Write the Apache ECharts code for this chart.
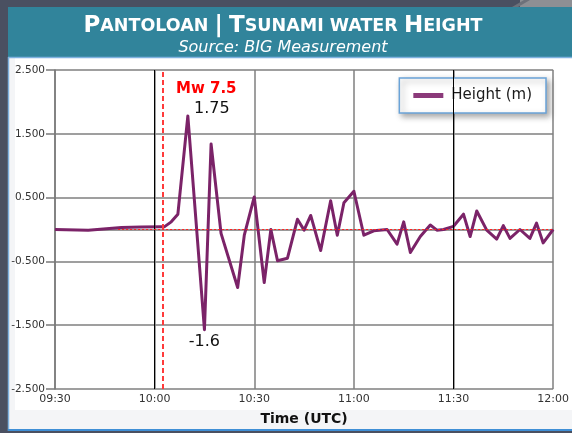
<!DOCTYPE html>
<html>
<head>
<meta charset="utf-8">
<script src="https://cdn.jsdelivr.net/npm/echarts@6/dist/echarts.min.js"></script>
<style>html,body{margin:0;padding:0;background:#4a5061}#c{width:572px;height:433px}</style>
</head>
<body>
<div id="c"></div>
<script>
// minutes after 09:30 UTC
var times = [0,10,20,26,32,33,35,37,40,45,47,50,55,57,60,63,65,67,70,73,75,77,80,83,85,87,90,93,96,100,103,105,107,110,113,115,117,120,123,125,127,130,133,135,137,140,143,145,147,150];
var heights = [0.0,-0.01,0.03,0.04,0.045,0.045,0.12,0.24,1.78,-1.57,1.34,-0.06,-0.91,-0.09,0.51,-0.83,0.0,-0.49,-0.45,0.16,-0.01,0.22,-0.33,0.45,-0.09,0.42,0.6,-0.09,-0.02,0.0,-0.23,0.12,-0.36,-0.11,0.07,-0.01,0.0,0.05,0.24,-0.11,0.29,-0.01,-0.15,0.06,-0.14,0.0,-0.14,0.10,-0.21,0.0];
var xTickLabels = ['09:30','10:00','10:30','11:00','11:30','12:00'];
var quakeTime = [32.3];
var quakeLabel = ['Mw 7.5'];
var peakNotes = ['1.75','-1.6'];
var peakIdx = [8, 9];
var seriesName = 'Height (m)';

var data = times.map(function(t,i){return [t, heights[i]];});
var chart = echarts.init(document.getElementById('c'), null, {renderer:'canvas'});
chart.setOption({
  animation:false,
  backgroundColor:'#4a5061',
  graphic:[
    {type:'rect', z:-20, shape:{x:520,y:0,width:52,height:7}, style:{fill:'#8d8f94'}},
    {type:'polygon', z:-19, shape:{points:[[512,7],[524,0],[530,0],[518,7]]}, style:{fill:'#6d717a'}},
    {type:'rect', z:-20, shape:{x:8,y:7,width:564,height:50}, style:{fill:'#31849b'}},
    {type:'rect', z:-20, shape:{x:8,y:57,width:564,height:374}, style:{fill:'#f4f5f7'}},
    {type:'rect', z:-19, shape:{x:15,y:58,width:557,height:352}, style:{fill:'#ffffff'}},
    {type:'line', z:-18, shape:{x1:8,y1:57.5,x2:572,y2:57.5}, style:{stroke:'#7fb2e0',lineWidth:1.5}},
    {type:'line', z:-18, shape:{x1:8.5,y1:57,x2:8.5,y2:431}, style:{stroke:'#7fb2e0',lineWidth:1.5}},
    {type:'rect', z:-18, shape:{x:8,y:429,width:564,height:2}, style:{fill:'#3f8fd6'}}
  ],
  title:[
    {text:'{b|P}{s|ANTOLOAN }{b||}{s| }{b|T}{s|SUNAMI WATER }{b|H}{s|EIGHT}', left:278, top:10, textAlign:'center',
     textStyle:{rich:{
       b:{color:'#fff', fontFamily:'DejaVu Sans', fontWeight:'bold', fontSize:23},
       s:{color:'#fff', fontFamily:'DejaVu Sans', fontWeight:'bold', fontSize:17.5}
     }}},
    {text:'Source: BIG Measurement', left:278, top:35, textAlign:'center',
     textStyle:{color:'#fff', fontFamily:'DejaVu Sans', fontStyle:'italic', fontWeight:'normal', fontSize:16}}
  ],
  legend:{
    data:[{name:seriesName, icon:'rect', itemStyle:{color:'#8b3a7a'}}],
    right:26, top:78, orient:'horizontal',
    itemWidth:30, itemHeight:5, itemGap:8,
    padding:[10,14,10,14],
    backgroundColor:'#ffffff', borderColor:'#6aa3d8', borderWidth:1.5, borderRadius:0,
    shadowBlur:6, shadowColor:'rgba(0,0,0,0.35)', shadowOffsetX:3, shadowOffsetY:3,
    textStyle:{fontFamily:'DejaVu Sans', fontSize:15, color:'#1a1a1a', padding:[0,0,0,3]}
  },
  grid:{left:55, right:18, top:70, bottom:44, containLabel:false},
  xAxis:{
    type:'value', min:0, max:150, interval:30,
    name:'Time (UTC)', nameLocation:'middle', nameGap:23,
    nameTextStyle:{fontFamily:'DejaVu Sans', fontWeight:'bold', fontSize:14, color:'#111'},
    axisLine:{show:true, lineStyle:{color:'#7a7a7a', width:1.5}},
    axisTick:{show:false},
    axisLabel:{formatter:function(v){return xTickLabels[Math.round(v/30)];}, fontFamily:'DejaVu Sans', fontSize:11, color:'#333', margin:5},
    splitLine:{show:true, lineStyle:{color:'#7f7f7f', width:1.5}}
  },
  yAxis:{
    type:'value', min:-2.5, max:2.5, interval:1,
    axisLine:{show:true, lineStyle:{color:'#7a7a7a', width:1.5}},
    axisTick:{show:true, length:9, lineStyle:{color:'#7a7a7a', width:1.5}},
    axisLabel:{formatter:function(v){return v.toFixed(3);}, fontFamily:'DejaVu Sans', fontSize:10.5, color:'#333', margin:10},
    splitLine:{show:true, lineStyle:{color:'#7f7f7f', width:1.5}}
  },
  series:[
    {
      name:'grid-accent', type:'line', data:[], silent:true, legendHoverLink:false,
      markLine:{symbol:'none', silent:true, label:{show:false},
        lineStyle:{color:'#000', width:1, type:'solid'},
        data:[{xAxis:30},{xAxis:120}]}
    },
    {
      name:seriesName, type:'line', data:data, symbol:'none', smooth:false, z:3,
      lineStyle:{color:'#7b2368', width:3, join:'round'}, itemStyle:{color:'#7b2368'},
      markLine:{symbol:'none', silent:true, label:{show:false},
        data:[
          {xAxis:quakeTime[0], lineStyle:{color:'#ff3b3b', width:2, type:[5,3]}},
          [{coord:[19,0], lineStyle:{color:'#ff2222', width:1, type:[2,2]}},{coord:[150,0]}]
        ]},
      markPoint:{
        symbol:'circle', symbolSize:1, itemStyle:{color:'rgba(0,0,0,0)'}, silent:true,
        data:[
          {coord:[times[peakIdx[0]], heights[peakIdx[0]]], label:{show:true, formatter:peakNotes[0], offset:[24,-7], fontFamily:'DejaVu Sans', fontSize:16, color:'#111'}},
          {coord:[times[peakIdx[1]], heights[peakIdx[1]]], label:{show:true, formatter:peakNotes[1], offset:[0,12], fontFamily:'DejaVu Sans', fontSize:16, color:'#111'}},
          {coord:[quakeTime[0], 2.2], label:{show:true, formatter:quakeLabel[0], offset:[44,0], fontFamily:'DejaVu Sans', fontWeight:'bold', fontSize:15, color:'#ff0000'}}
        ]
      }
    }
  ]
});
</script>
</body>
</html>
